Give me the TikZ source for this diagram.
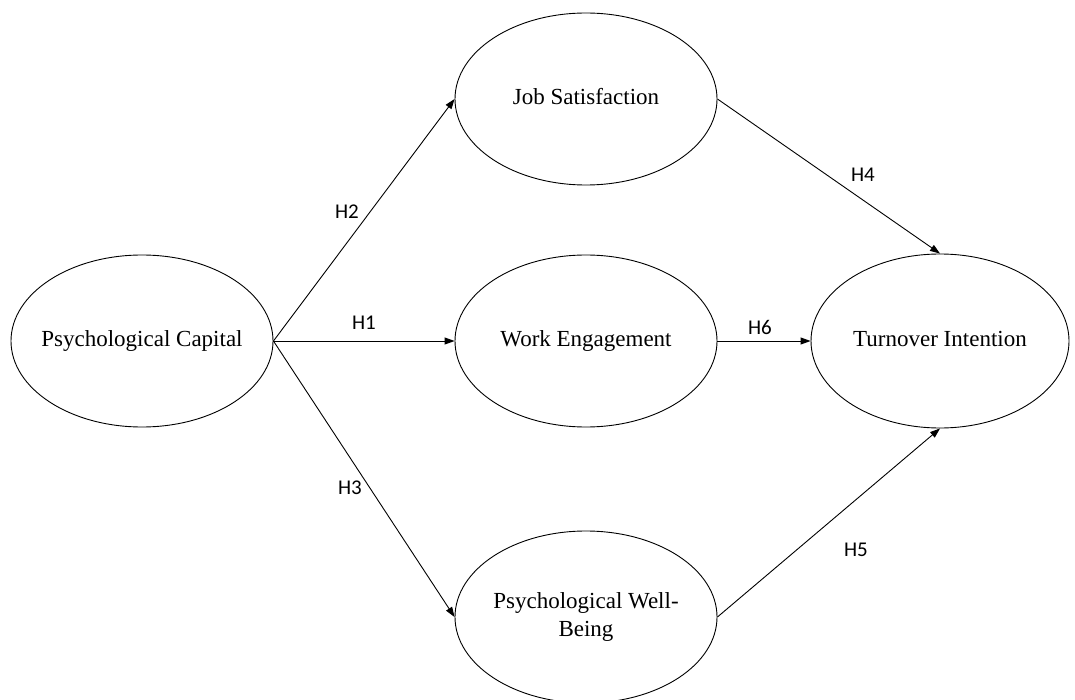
\documentclass[tikz,border=0pt]{standalone}
\usepackage{fontspec}
\setmainfont{Liberation Serif}
\newfontfamily\lblfont{Carlito}
\usetikzlibrary{shapes.geometric,arrows.meta}
\newcommand{\ctxt}[1]{\makebox[0pt][c]{\begin{tabular}{@{}c@{}}#1\end{tabular}}}
\begin{document}
\begin{tikzpicture}[x=1pt,y=-1pt,
  var/.style={draw,ellipse,line width=0.9pt,minimum width=262pt,minimum height=172pt,inner sep=0pt,font=\fontsize{23}{28}\selectfont},
  link/.style={draw,line width=0.9pt,-{Triangle[length=10pt,width=7pt]}},
  hyp/.style={font=\lblfont\fontsize{21}{24}\selectfont,inner sep=0pt}]
\useasboundingbox (0,0) rectangle (1075,700);
\clip (0,0) rectangle (1075,700);
\fill[white] (0,0) rectangle (1075,700);
\node[var] (pc) at (142,341) {\ctxt{Psychological Capital}};
\node[var] (js) at (586,99) {\ctxt{Job Satisfaction}};
\node[var] (we) at (586,341) {\ctxt{Work Engagement}};
\node[var] (pwb) at (586,617) {\ctxt{Psychological Well-\\Being}};
\node[var,minimum width=258pt,minimum height=174pt] (ti) at (940,341) {\ctxt{Turnover Intention}};
\draw[link] (pc.east) -- (js.west);
\draw[link] (pc.east) -- (we.west);
\draw[link] (pc.east) -- (pwb.west);
\draw[link] (js.east) -- (ti.north);
\draw[link] (we.east) -- (ti.west);
\draw[link] (pwb.east) -- (ti.south);
\node[hyp] (h2) at (347,212) {H2};
\node[hyp] (h1) at (364,323) {H1};
\node[hyp] (h3) at (350,488) {H3};
\node[hyp] (h4) at (863,175) {H4};
\node[hyp] (h6) at (760,327) {H6};
\node[hyp] (h5) at (856,550) {H5};
\end{tikzpicture}
\end{document}
